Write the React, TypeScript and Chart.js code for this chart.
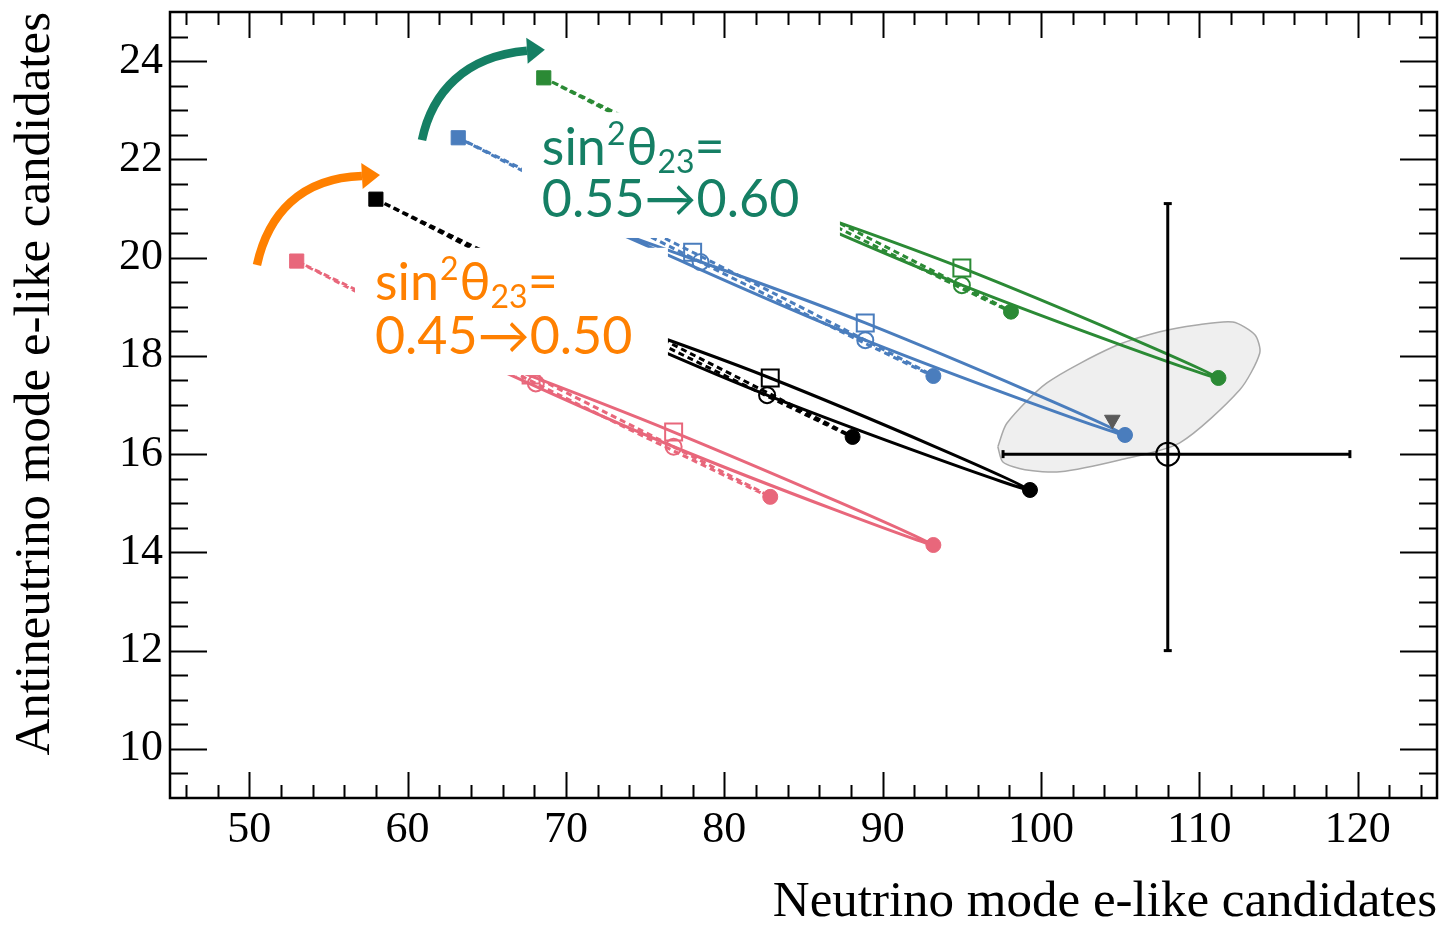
import React, { useEffect, useRef } from "react";
import { Chart, registerables } from "chart.js";

Chart.register(...registerables);

// ---------- axes ----------
const xTickValues = [50, 60, 70, 80, 90, 100, 110, 120];
const yTickValues = [10, 12, 14, 16, 18, 20, 22, 24];
const xMinorStep = 2;
const yMinorStep = 0.5;
const xTitle = "Neutrino mode e-like candidates";
const yTitle = "Antineutrino mode e-like candidates";

// ---------- predicted event-rate ellipses ----------
// Point order in every ellipse: δCP = π/2 (■), π (□), −π/2 (●), 0 (○)
// sin²θ23 = 0.45
const s045IOx = [53.0, 67.8, 82.9, 68.1];
const s045IOy = [19.93, 17.61, 15.13, 17.44];
const s045NOx = [60.4, 76.8, 93.2, 76.8];
const s045NOy = [18.5, 16.45, 14.15, 16.15];
// sin²θ23 = 0.50
const s050IOx = [58.0, 72.8, 88.1, 73.3];
const s050IOy = [21.19, 18.87, 16.35, 18.67];
const s050NOx = [66.3, 82.9, 99.3, 82.7];
const s050NOy = [19.48, 17.55, 15.27, 17.2];
// sin²θ23 = 0.55
const s055IOx = [63.2, 78.0, 93.2, 78.5];
const s055IOy = [22.44, 20.11, 17.59, 19.91];
const s055NOx = [72.5, 88.9, 105.3, 88.9];
const s055NOy = [20.61, 18.67, 16.39, 18.32];
// sin²θ23 = 0.60
const s060IOx = [68.6, 83.1, 98.1, 83.6];
const s060IOy = [23.66, 21.38, 18.9, 21.18];
const s060NOx = [78.8, 95.0, 111.2, 95.0];
const s060NOy = [21.67, 19.79, 17.55, 19.44];

// ---------- observation ----------
const obsX = [108.0];
const obsY = [16.0];
const obsErrX = [97.6, 119.5];
const obsErrY = [12.0, 21.1];
const bestFitX = [104.5];
const bestFitY = [16.7];
const contourX = [97.27, 97.59, 98.98, 101.19, 104.97, 108.76, 112.55, 113.81, 113.5, 112.11, 109.84, 107.5, 104.53, 100.37, 97.84, 97.27];
const contourY = [16.15, 15.84, 15.68, 15.64, 15.88, 16.23, 17.31, 18.06, 18.43, 18.69, 18.63, 18.49, 18.18, 17.45, 16.63, 16.15];

// ---------- annotation texts ----------
const annotationValues = ["0.45→0.50", "0.55→0.60"];

const COLORS = {
  pink: "#e8677b",
  black: "#000000",
  blue: "#4a7dbd",
  green: "#2b8a35",
  orange: "#ff8000",
  teal: "#157f64",
};

const annotations = [
  {
    color: COLORS.orange,
    text: annotationValues[0],
    box: [56.68, 17.61, 76.44, 20.2],
    textX: 57.94,
    line1Y: 19.14,
    line2Y: 18.04,
    arrow: [
      [50.49, 19.85],
      [51.19, 20.87],
      [53.21, 21.62],
      [57.12, 21.66],
    ],
    tip: [58.26, 21.68],
  },
  {
    color: COLORS.teal,
    text: annotationValues[1],
    box: [67.22, 20.4, 87.3, 22.96],
    textX: 68.48,
    line1Y: 21.89,
    line2Y: 20.83,
    arrow: [
      [60.91, 22.39],
      [61.54, 23.37],
      [63.62, 24.1],
      [67.54, 24.21],
    ],
    tip: [68.67, 24.23],
  },
];

const loopIdx = [0, 1, 2, 3, 0];
const CLEAR = "rgba(0,0,0,0)";

function ellipseDataset(label: string, xs: number[], ys: number[], color: string, dashed: boolean) {
  return {
    label,
    data: loopIdx.map((i) => ({ x: xs[i], y: ys[i] })),
    showLine: true,
    borderColor: color,
    borderWidth: 3,
    borderDash: dashed ? [6, 4] : [],
    tension: 0.35,
    fill: false,
    pointStyle: ["rect", "rect", "circle", "circle", "rect"],
    pointRadius: [10, 12, 7.5, 8, 0],
    pointBorderWidth: [1, 2, 1, 2, 0],
    pointBackgroundColor: [color, CLEAR, color, CLEAR, color],
    pointBorderColor: color,
    order: 10,
  };
}

const serif = '"Liberation Serif", "Times New Roman", serif';
const sans = 'Lato, "Noto Sans", "DejaVu Sans", sans-serif';

function drawSinLabel(ctx: CanvasRenderingContext2D, x: number, y: number, color: string) {
  const big = `52px ${sans}`;
  const small = `32px ${sans}`;
  ctx.fillStyle = color;
  ctx.textAlign = "left";
  ctx.textBaseline = "alphabetic";
  ctx.font = big;
  ctx.fillText("sin", x, y);
  x += ctx.measureText("sin").width + 1;
  ctx.font = small;
  ctx.fillText("2", x, y - 20);
  x += ctx.measureText("2").width + 1;
  ctx.font = big;
  ctx.fillText("θ", x, y);
  x += ctx.measureText("θ").width;
  ctx.font = small;
  ctx.fillText("23", x, y + 8);
  x += ctx.measureText("23").width;
  ctx.font = big;
  ctx.fillText("=", x, y);
}

const annotationPlugin = {
  id: "annotations",
  afterDatasetsDraw(chart: any) {
    const { ctx } = chart;
    const xs = chart.scales.x;
    const ys = chart.scales.y;
    const px = (v: number) => xs.getPixelForValue(v);
    const py = (v: number) => ys.getPixelForValue(v);
    for (const a of annotations) {
      ctx.save();
      const l = px(a.box[0]);
      const r = px(a.box[2]);
      const t = py(a.box[3]);
      const b = py(a.box[1]);
      ctx.fillStyle = "#ffffff";
      ctx.fillRect(l, t, r - l, b - t);
      drawSinLabel(ctx, px(a.textX), py(a.line1Y), a.color);
      ctx.font = `52px ${sans}`;
      ctx.fillStyle = a.color;
      ctx.fillText(a.text, px(a.textX), py(a.line2Y));
      // arrow
      const p = a.arrow.map(([vx, vy]) => [px(vx), py(vy)]);
      ctx.strokeStyle = a.color;
      ctx.lineWidth = 8.5;
      ctx.lineCap = "butt";
      ctx.beginPath();
      ctx.moveTo(p[0][0], p[0][1]);
      ctx.bezierCurveTo(p[1][0], p[1][1], p[2][0], p[2][1], p[3][0], p[3][1]);
      ctx.stroke();
      const tx = px(a.tip[0]);
      const ty = py(a.tip[1]);
      const bx = p[3][0];
      const by = p[3][1];
      const dx = tx - bx;
      const dy = ty - by;
      const L = Math.hypot(dx, dy);
      const nx = -dy / L;
      const ny = dx / L;
      const hw = 13;
      ctx.fillStyle = a.color;
      ctx.beginPath();
      ctx.moveTo(tx, ty);
      ctx.lineTo(bx + nx * hw, by + ny * hw);
      ctx.lineTo(bx - nx * hw, by - ny * hw);
      ctx.closePath();
      ctx.fill();
      ctx.restore();
    }
  },
};

const framePlugin = {
  id: "frame",
  afterDraw(chart: any) {
    const { ctx, chartArea } = chart;
    const { left, right, top, bottom } = chartArea;
    const xs = chart.scales.x;
    const ys = chart.scales.y;
    ctx.save();
    ctx.strokeStyle = "#000";
    ctx.lineWidth = 2;
    ctx.beginPath();
    for (let v = xs.min + 1; v <= xs.max - 1 + 1e-9; v += xMinorStep) {
      const p = Math.round(xs.getPixelForValue(v)) + 0.5;
      const len = Math.abs(v % 10) < 1e-6 ? 26 : 13;
      ctx.moveTo(p, bottom);
      ctx.lineTo(p, bottom - len);
      ctx.moveTo(p, top);
      ctx.lineTo(p, top + len);
    }
    for (let v = ys.min + yMinorStep; v <= ys.max - yMinorStep + 1e-9; v += yMinorStep) {
      const p = Math.round(ys.getPixelForValue(v)) + 0.5;
      const len = Math.abs(v % 2) < 1e-6 ? 37 : 18;
      ctx.moveTo(left, p);
      ctx.lineTo(left + len, p);
      ctx.moveTo(right, p);
      ctx.lineTo(right - len, p);
    }
    ctx.stroke();
    ctx.lineWidth = 2.5;
    ctx.strokeRect(left, top, right - left, bottom - top);
    ctx.restore();
  },
};

export default function App() {
  const ref = useRef<HTMLCanvasElement | null>(null);

  useEffect(() => {
    document.body.style.margin = "0";
    const canvas = ref.current;
    if (!canvas) return;

    const datasets: any[] = [
      {
        label: "Observed",
        data: obsX.map((x, i) => ({ x, y: obsY[i] })),
        pointStyle: "circle",
        pointRadius: 11.5,
        pointBorderWidth: 2,
        pointBorderColor: "#000",
        pointBackgroundColor: CLEAR,
        showLine: false,
        order: 0,
      },
      {
        label: "Observed x error",
        data: obsErrX.map((x) => ({ x, y: obsY[0] })),
        showLine: true,
        borderColor: "#000",
        borderWidth: 3,
        pointStyle: "line",
        pointRotation: 90,
        pointRadius: 4,
        pointBorderWidth: 3,
        pointBorderColor: "#000",
        order: 0,
      },
      {
        label: "Observed y error",
        data: obsErrY.map((y) => ({ x: obsX[0], y })),
        showLine: true,
        borderColor: "#000",
        borderWidth: 3,
        pointStyle: "line",
        pointRotation: 0,
        pointRadius: 4,
        pointBorderWidth: 3,
        pointBorderColor: "#000",
        order: 0,
      },
      {
        label: "Best fit",
        data: bestFitX.map((x, i) => ({ x, y: bestFitY[i] })),
        pointStyle: "triangle",
        pointRotation: 180,
        pointRadius: 9,
        pointBackgroundColor: "#5a5a5a",
        pointBorderColor: "#5a5a5a",
        pointBorderWidth: 1,
        showLine: false,
        order: 1,
      },
      ellipseDataset("sin²θ23=0.45 IO", s045IOx, s045IOy, COLORS.pink, true),
      ellipseDataset("sin²θ23=0.45 NO", s045NOx, s045NOy, COLORS.pink, false),
      ellipseDataset("sin²θ23=0.50 IO", s050IOx, s050IOy, COLORS.black, true),
      ellipseDataset("sin²θ23=0.50 NO", s050NOx, s050NOy, COLORS.black, false),
      ellipseDataset("sin²θ23=0.55 IO", s055IOx, s055IOy, COLORS.blue, true),
      ellipseDataset("sin²θ23=0.55 NO", s055NOx, s055NOy, COLORS.blue, false),
      ellipseDataset("sin²θ23=0.60 IO", s060IOx, s060IOy, COLORS.green, true),
      ellipseDataset("sin²θ23=0.60 NO", s060NOx, s060NOy, COLORS.green, false),
      {
        label: "Contour",
        data: contourX.map((x, i) => ({ x, y: contourY[i] })),
        showLine: true,
        borderColor: "#a8a8a8",
        borderWidth: 1.5,
        backgroundColor: "#efefef",
        fill: "shape",
        tension: 0.25,
        pointRadius: 0,
        order: 100,
      },
    ];

    const chart = new Chart(canvas, {
      type: "scatter",
      data: { datasets },
      options: {
        animation: false,
        responsive: false,
        devicePixelRatio: 1,
        events: [],
        layout: { autoPadding: false, padding: { top: 12, right: 3, left: 0, bottom: 0 } },
        plugins: { legend: { display: false }, tooltip: { enabled: false } },
        scales: {
          x: {
            type: "linear",
            position: "bottom",
            min: 45,
            max: 125,
            grid: { display: false, drawTicks: false },
            border: { display: false },
            ticks: {
              font: { family: serif, size: 44 },
              color: "#000",
              padding: 6,
              maxRotation: 0,
              autoSkip: false,
            },
            afterBuildTicks: (s: any) => {
              s.ticks = xTickValues.map((v) => ({ value: v }));
            },
            afterFit: (s: any) => {
              s.height = 130;
              s.paddingLeft = 0;
              s.paddingRight = 0;
            },
            title: {
              display: true,
              text: xTitle,
              align: "end",
              color: "#000",
              font: { family: serif, size: 51, lineHeight: 1 },
              padding: { top: 0, bottom: 0 },
            },
          },
          y: {
            type: "linear",
            position: "left",
            min: 9,
            max: 25,
            grid: { display: false, drawTicks: false },
            border: { display: false },
            ticks: {
              font: { family: serif, size: 44 },
              color: "#000",
              padding: 7,
              autoSkip: false,
            },
            afterBuildTicks: (s: any) => {
              s.ticks = yTickValues.map((v) => ({ value: v }));
            },
            afterFit: (s: any) => {
              s.width = 170;
              s.paddingTop = 0;
              s.paddingBottom = 0;
            },
            title: {
              display: true,
              text: yTitle,
              align: "end",
              color: "#000",
              font: { family: serif, size: 51, lineHeight: 1 },
              padding: { top: 10, bottom: 0 },
            },
          },
        },
      } as any,
      plugins: [annotationPlugin, framePlugin],
    });

    return () => chart.destroy();
  }, []);

  return (
    <div style={{ width: 1440, height: 928, position: "relative", background: "#fff" }}>
      <canvas ref={ref} width={1440} height={928} style={{ display: "block" }} />
    </div>
  );
}
